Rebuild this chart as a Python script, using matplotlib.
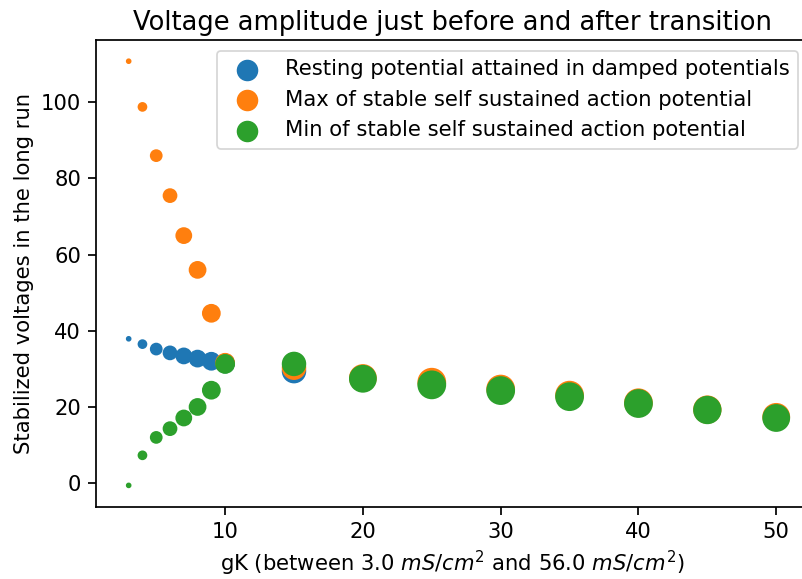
import matplotlib
matplotlib.use('Agg')
from matplotlib import pyplot as plt

# gK values (mS/cm^2) and stabilized voltages
gk_low = [3, 4, 5, 6, 7, 8, 9, 10]
gk_high = [15, 20, 25, 30, 35, 40, 45, 50]

rest = [37.9, 36.5, 35.2, 34.2, 33.4, 32.7, 32.0, 31.4, 29.4]
v_max = [110.8, 98.8, 86.0, 75.5, 65.0, 56.0, 44.6, 31.6,
         30.3, 27.6, 26.5, 24.7, 23.1, 21.1, 19.3, 17.4]
v_min = [-0.6, 7.3, 12.0, 14.3, 17.1, 20.0, 24.4, 31.3,
         31.3, 27.4, 25.8, 24.3, 22.7, 20.9, 19.2, 17.1]

# marker areas grow with gK
sizes = [5, 21, 40, 56, 75, 85, 96, 108, 171, 225, 242, 242, 242, 242, 235, 225]

plt.rcParams['font.size'] = 12.2
plt.rcParams['axes.linewidth'] = 1.0
for a in ('xtick', 'ytick'):
    plt.rcParams[a + '.major.size'] = 4.4
    plt.rcParams[a + '.major.width'] = 1.0
    plt.rcParams[a + '.major.pad'] = 4.4


def plot_transition(save, show):
    gk = gk_low + gk_high
    fig = plt.figure(figsize=(802 / 125, 579 / 125), dpi=125)
    ax = fig.add_axes([96.3 / 802, 72.4 / 579, 712.3 / 802, 466.6 / 579])

    ax.scatter(gk[:len(rest)], rest, s=sizes[:len(rest)], color='tab:blue',
               label='Resting potential attained in damped potentials')
    ax.scatter(gk, v_max, s=sizes, color='tab:orange',
               label='Max of stable self sustained action potential')
    ax.scatter(gk, v_min, s=sizes, color='tab:green',
               label='Min of stable self sustained action potential')

    ax.set_title('Voltage amplitude just before and after transition', fontsize=14.8)
    ax.set_xlabel('gK (between 3.0 $mS/cm^2$ and 56.0 $mS/cm^2$)')
    ax.set_ylabel('Stabilized voltages in the long run')
    ax.set_yticks([0, 20, 40, 60, 80, 100])

    leg = ax.legend(loc='upper right')
    for h in leg.legend_handles:
        h.set_sizes([130])

    if save: fig.savefig('out.png', dpi=125)
    if show: plt.show()


if __name__ == '__main__':
    plot_transition(True, False)
